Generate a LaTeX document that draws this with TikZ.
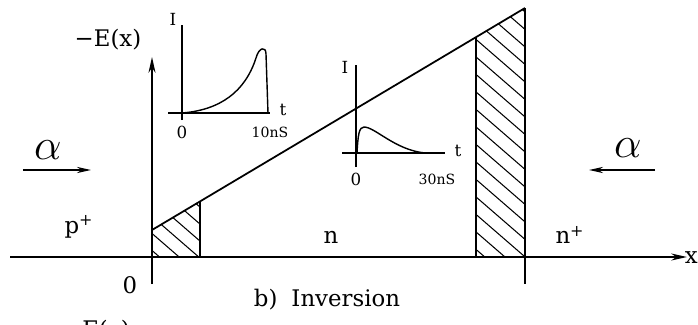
\documentclass[tikz,border=0pt]{standalone}
\usepackage{fontspec}
\setmainfont{DejaVu Serif}
\usetikzlibrary{arrows.meta,positioning,calc}
\tikzset{
  axisln/.style={-{Stealth[length=9pt,width=4pt]},line width=1pt},
  mainln/.style={line width=1pt},
  insetln/.style={line width=0.8pt},
  hatchln/.style={line width=0.6pt},
  flowarr/.style={-{Stealth[length=8pt,width=3.5pt]},line width=0.9pt},
  lbl/.style={font=\fontsize{13}{15}\selectfont,inner sep=1pt},
  slbl/.style={font=\fontsize{9.5}{11}\selectfont,inner sep=1pt},
  tlbl/.style={font=\fontsize{8}{10}\selectfont,inner sep=1pt},
  alf/.style={font=\Huge,inner sep=0pt}
}
\begin{document}
\begin{tikzpicture}[x=0.02cm,y=-0.02cm]
  \useasboundingbox (0,0) rectangle (698,325);
  % Axes
  \coordinate (O) at (152,257);
  \coordinate (xL) at (10,257);
  \coordinate (xR) at (687,257);
  \coordinate (yB) at (152,284);
  \coordinate (yT) at (152,57);
  \draw[axisln] (xL) -- (xR);
  \draw[axisln] (yB) -- (yT);
  \node[lbl, anchor=east, inner sep=0pt] (xlab) at (698,258) {x};
  \node[lbl] (Elab) at (108,40) {−E(x)};
  \node[lbl] (zero) at (130,285) {0};

  % Field profile
  \coordinate (A) at (152,230);
  \coordinate (B) at (525,8);
  \coordinate (Bb) at (525,284);
  \coordinate (P1) at ($(A)!0.129!(B)$);
  \coordinate (P2) at ($(A)!0.869!(B)$);
  \draw[mainln] (A) -- (B);
  \draw[mainln] (B) -- (Bb);
  \draw[mainln] (P1) -- (P1 |- O);
  \draw[mainln] (P2) -- (P2 |- O);

  % Hatched depletion edges
  \begin{scope}
    \clip (O) -- (A) -- (P1) -- (P1 |- O) -- cycle;
    \foreach \k in {-5,...,3}
      \draw[hatchln] (100,{188.4+17*\k}) -- ++(150,130);
  \end{scope}
  \begin{scope}
    \clip (P2 |- O) -- (P2) -- (B) -- (B |- O) -- cycle;
    \foreach \k in {-5,...,14}
      \draw[hatchln] (440,{8.2+17.5*\k}) -- ++(150,130);
  \end{scope}

  % Region labels
  \node[lbl] (pp) at (79,227) {p\textsuperscript{+}};
  \node[lbl] (nn) at (331,237) {n};
  \node[lbl] (np) at (570,235) {n\textsuperscript{+}};
  \node[lbl] (cap) at (327,300) {b)\hspace{8pt}Inversion};
  \node[lbl, anchor=north] (Ebot) at (106,318) {E(x)};

  % Alpha particles
  \node[alf] (al1) at (48,150) {$\alpha$};
  \coordinate (a1s) at (23,170);
  \coordinate (a1e) at (91,170);
  \draw[flowarr] (a1s) -- (a1e);
  \node[alf] (al2) at (628,148) {$\alpha$};
  \coordinate (a2s) at (655,170);
  \coordinate (a2e) at (589,170);
  \draw[flowarr] (a2s) -- (a2e);

  % Inset 1: current pulse
  \coordinate (i1B) at (182,120);
  \coordinate (i1T) at (182,25);
  \coordinate (i1L) at (168,113);
  \coordinate (i1R) at (270,113);
  \draw[insetln] (i1B) -- (i1T);
  \draw[insetln] (i1L) -- (i1R);
  \draw[insetln] (182,113) .. controls (220,110) and (245,92) .. (256,58)
    .. controls (259,47) and (266,46) .. (266,54) -- (268,113);
  \node[slbl] (i1I) at (173,19) {I};
  \node[slbl] (i1t) at (283,110) {t};
  \node[slbl] (i1z) at (182,132) {0};
  \node[tlbl] (i1n) at (270,132) {10nS};

  % Inset 2: current pulse
  \coordinate (i2B) at (356,167);
  \coordinate (i2T) at (356,65);
  \coordinate (i2L) at (342,153);
  \coordinate (i2R) at (445,153);
  \draw[insetln] (i2B) -- (i2T);
  \draw[insetln] (i2L) -- (i2R);
  \draw[insetln] (357,153) .. controls (358,135) and (359,127) .. (364,127)
    .. controls (375,127) and (395,150) .. (425,153);
  \node[slbl] (i2I) at (345,67) {I};
  \node[slbl] (i2t) at (458,151) {t};
  \node[slbl] (i2z) at (356,179) {0};
  \node[tlbl] (i2n) at (437,179) {30nS};
\end{tikzpicture}
\end{document}
